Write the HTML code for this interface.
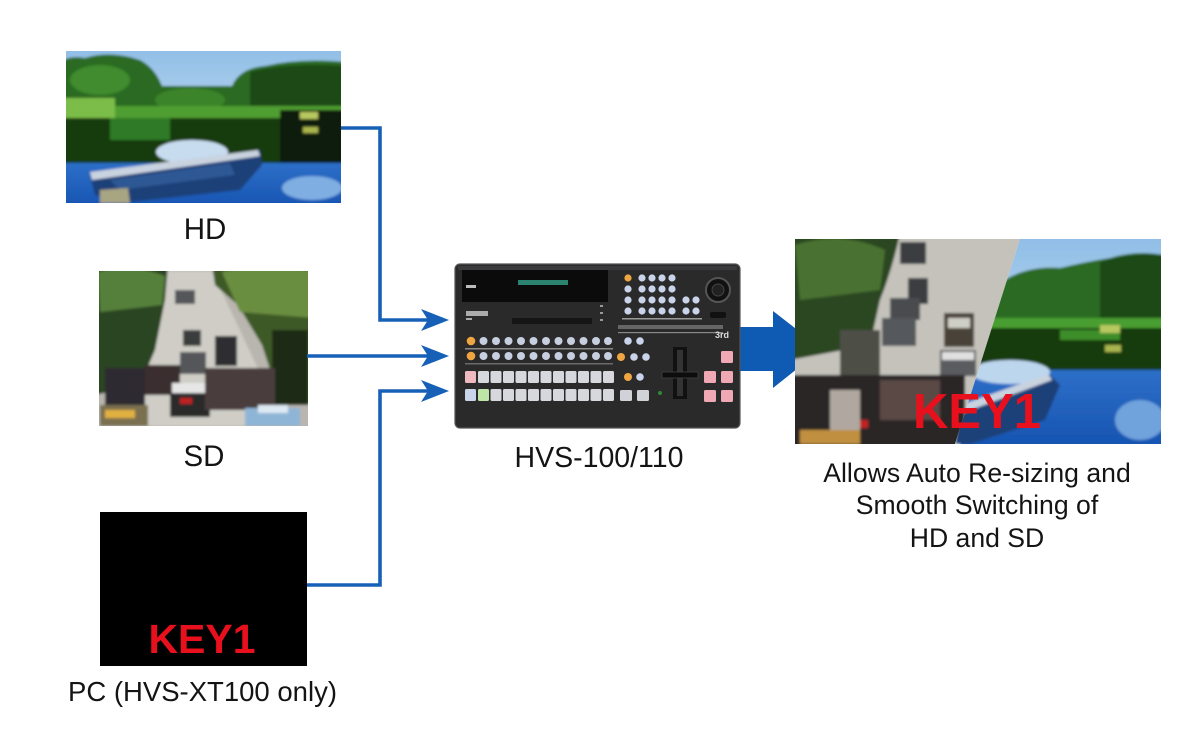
<!DOCTYPE html>
<html><head><meta charset="utf-8"><style>
html,body{margin:0;padding:0;background:#fff;}
svg{display:block;}
text{font-family:"Liberation Sans",Arial,sans-serif;}
</style></head><body>
<svg width="1200" height="742" viewBox="0 0 1200 742" xmlns="http://www.w3.org/2000/svg">
<defs>
<filter id="bl" x="-5%" y="-5%" width="110%" height="110%"><feGaussianBlur stdDeviation="1.4"/></filter>
<clipPath id="cHD"><rect x="66" y="51" width="275" height="152"/></clipPath>
<clipPath id="cSD"><rect x="99" y="271" width="209" height="155"/></clipPath>
<clipPath id="cOL"><polygon points="795,239 1020,239 955,444 795,444"/></clipPath>
<clipPath id="cOR"><polygon points="1020,239 1161,239 1161,444 955,444"/></clipPath>
<linearGradient id="sky" x1="0" y1="0" x2="0" y2="1"><stop offset="0" stop-color="#8fbde6"/><stop offset="1" stop-color="#dfeef8"/></linearGradient>
<linearGradient id="water" x1="0" y1="0" x2="0" y2="1"><stop offset="0" stop-color="#2d6fc8"/><stop offset="1" stop-color="#1552b0"/></linearGradient>
</defs>

<!-- HD image -->
<g clip-path="url(#cHD)">
<g filter="url(#bl)">
<rect x="60" y="45" width="290" height="165" fill="url(#sky)"/>
<path d="M60,62 Q70,55 85,58 Q110,50 140,60 Q155,68 162,86 L232,86 Q240,68 265,66 Q300,58 345,62 L345,120 L60,120 Z" fill="#2a6a20"/>
<ellipse cx="100" cy="80" rx="30" ry="15" fill="#3f8c2e"/>
<ellipse cx="190" cy="100" rx="35" ry="12" fill="#3a8429"/>
<path d="M250,72 Q290,62 345,66 L345,122 L250,122Z" fill="#1b4a15"/>
<rect x="60" y="106" width="290" height="12" fill="#4f9e33"/>
<rect x="60" y="98" width="55" height="42" fill="#7cbd48"/>
<rect x="60" y="118" width="290" height="47" fill="#163a11"/>
<rect x="110" y="118" width="60" height="22" fill="#2f7a25"/>
<rect x="280" y="110" width="70" height="55" fill="#0c1c09"/>
<rect x="300" y="112" width="18" height="7" fill="#b8c860"/>
<rect x="303" y="127" width="15" height="6" fill="#a9b54e"/>
<ellipse cx="192" cy="152" rx="36" ry="12" fill="#c8dcf0"/>
<rect x="60" y="163" width="290" height="47" fill="url(#water)"/>
<ellipse cx="312" cy="188" rx="30" ry="12" fill="#7eaee2"/>
<path d="M90,175 L260,150 L262,165 L240,190 L120,203 L95,195Z" fill="#1d3f78"/>
<path d="M90,172 L258,150 L260,156 L92,180Z" fill="#c9d3e0"/>
<path d="M110,180 L230,163 L235,175 L120,190Z" fill="#2f5894"/>
<path d="M100,190 L128,188 L130,203 L100,203Z" fill="#a8a582"/>
</g>
</g>

<!-- SD image -->
<g clip-path="url(#cSD)">
<g filter="url(#bl)">
<rect x="95" y="265" width="220" height="165" fill="#b8b6ae"/>
<path d="M165,271 L212,271 L285,426 L125,426Z" fill="#cfcdc6"/>
<path d="M95,265 L168,265 L165,300 L155,350 L140,385 L95,395Z" fill="#2b4420"/>
<path d="M98,272 Q130,262 165,276 L162,305 L100,312Z" fill="#55803a"/>
<path d="M212,265 L315,265 L315,405 L280,400 L262,345 L238,305 L215,285Z" fill="#3c5a28"/>
<path d="M222,272 Q265,262 315,272 L315,318 L240,312Z" fill="#6b8e40"/>
<rect x="272" y="330" width="36" height="75" fill="#1f2a18"/>
<rect x="175" y="290" width="20" height="14" fill="#55575a"/>
<rect x="183" y="330" width="18" height="16" fill="#3a3c3e"/>
<rect x="215" y="336" width="22" height="30" fill="#2d2f32"/>
<rect x="180" y="352" width="26" height="22" fill="#55575a"/>
<rect x="145" y="365" width="35" height="30" fill="#3b2f2f"/>
<rect x="170" y="385" width="40" height="32" fill="#2a2a2c"/>
<rect x="172" y="383" width="36" height="10" fill="#e6e6e6"/>
<rect x="205" y="368" width="70" height="42" fill="#4a3c3c"/>
<rect x="105" y="368" width="40" height="40" fill="#2d2a30"/>
<rect x="100" y="405" width="48" height="21" fill="#7a7050"/>
<rect x="105" y="410" width="30" height="8" fill="#e0b040"/>
<rect x="245" y="408" width="55" height="18" fill="#8fb5d6"/>
<rect x="258" y="405" width="30" height="8" fill="#dde9f3"/>
<rect x="180" y="398" width="12" height="6" fill="#c02020"/>
</g>
</g>

<!-- PC box -->
<rect x="100" y="512" width="207" height="154" fill="#000"/>
<text x="202" y="653" font-size="41" font-weight="bold" fill="#e8101c" text-anchor="middle">KEY1</text>

<!-- connectors -->
<g stroke="#1660b8" stroke-width="3.6" fill="none">
<polyline points="341,128 380,128 380,320 428,320"/>
<line x1="307" y1="356" x2="428" y2="356"/>
<polyline points="307,585 380,585 380,391 428,391"/>
</g>
<g fill="#1660b8">
<polygon points="449,320 421,309 428,320 421,331"/>
<polygon points="449,356 421,345 428,356 421,367"/>
<polygon points="449,391 421,380 428,391 421,402"/>
</g>

<!-- big arrow -->
<polygon points="738,327 773,327 773,311 822,349 773,388 773,371 738,371" fill="#0f5ab2"/>

<!-- device -->
<g>
<rect x="455" y="264" width="285" height="164" rx="5" fill="#2a2a2b" stroke="#555" stroke-width="1.2"/>
<rect x="458" y="266" width="279" height="4" fill="#3a3a3c"/>
<rect x="462" y="270" width="146" height="32" fill="#0b0b0c"/>
<rect x="518" y="280" width="50" height="5" fill="#2d8f7a" opacity="0.9"/>
<rect x="466" y="285" width="10" height="3" fill="#bbb"/>
<rect x="466" y="311" width="22" height="5" fill="#ccc" opacity="0.8"/>
<rect x="466" y="318" width="6" height="2" fill="#aaa"/>
<rect x="512" y="318" width="80" height="6" fill="#151515"/>
<rect x="600" y="305" width="3" height="2" fill="#999"/>
<rect x="600" y="312" width="3" height="2" fill="#999"/>
<rect x="600" y="319" width="3" height="2" fill="#999"/>
<g fill="#c6cee0">
<circle cx="471" cy="341" r="4.3" fill="#f0a640"/>
<circle cx="483.5" cy="341" r="4"/><circle cx="496" cy="341" r="4"/><circle cx="508.5" cy="341" r="4"/><circle cx="521" cy="341" r="4"/><circle cx="533.5" cy="341" r="4"/><circle cx="546" cy="341" r="4"/><circle cx="558.5" cy="341" r="4"/><circle cx="571" cy="341" r="4"/><circle cx="583.5" cy="341" r="4"/><circle cx="596" cy="341" r="4"/><circle cx="608" cy="341" r="4"/>
<circle cx="471" cy="356" r="4.3" fill="#f0a640"/>
<circle cx="483.5" cy="356" r="4"/><circle cx="496" cy="356" r="4"/><circle cx="508.5" cy="356" r="4"/><circle cx="521" cy="356" r="4"/><circle cx="533.5" cy="356" r="4"/><circle cx="546" cy="356" r="4"/><circle cx="558.5" cy="356" r="4"/><circle cx="571" cy="356" r="4"/><circle cx="583.5" cy="356" r="4"/><circle cx="596" cy="356" r="4"/><circle cx="608" cy="356" r="4"/>
</g>
<rect x="465" y="348" width="148" height="1.5" fill="#8a8a8a"/>
<rect x="465" y="363" width="148" height="1.5" fill="#6a6a6a"/>
<g fill="#d6d8de">
<rect x="465" y="371" width="11" height="12" rx="1.5" fill="#f0b8c0"/>
<rect x="478" y="371" width="11" height="12" rx="1.5"/><rect x="490.5" y="371" width="11" height="12" rx="1.5"/><rect x="503" y="371" width="11" height="12" rx="1.5"/><rect x="515.5" y="371" width="11" height="12" rx="1.5"/><rect x="528" y="371" width="11" height="12" rx="1.5"/><rect x="540.5" y="371" width="11" height="12" rx="1.5"/><rect x="553" y="371" width="11" height="12" rx="1.5"/><rect x="565.5" y="371" width="11" height="12" rx="1.5"/><rect x="578" y="371" width="11" height="12" rx="1.5"/><rect x="590.5" y="371" width="11" height="12" rx="1.5"/><rect x="603" y="371" width="11" height="12" rx="1.5"/>
<rect x="465" y="389" width="11" height="12" rx="1.5" fill="#c9d3ea"/>
<rect x="478" y="389" width="11" height="12" rx="1.5" fill="#bfe4a8"/><rect x="490.5" y="389" width="11" height="12" rx="1.5"/><rect x="503" y="389" width="11" height="12" rx="1.5"/><rect x="515.5" y="389" width="11" height="12" rx="1.5"/><rect x="528" y="389" width="11" height="12" rx="1.5"/><rect x="540.5" y="389" width="11" height="12" rx="1.5"/><rect x="553" y="389" width="11" height="12" rx="1.5"/><rect x="565.5" y="389" width="11" height="12" rx="1.5"/><rect x="578" y="389" width="11" height="12" rx="1.5"/><rect x="590.5" y="389" width="11" height="12" rx="1.5"/><rect x="603" y="389" width="11" height="12" rx="1.5"/>
</g>
<g fill="#c9d4ea">
<circle cx="628" cy="278" r="3.6" fill="#f0a640"/>
<circle cx="642" cy="278" r="3.6"/><circle cx="652" cy="278" r="3.6"/><circle cx="662" cy="278" r="3.6"/><circle cx="672" cy="278" r="3.6"/>
<circle cx="628" cy="289" r="3.6"/><circle cx="642" cy="289" r="3.6"/><circle cx="652" cy="289" r="3.6"/><circle cx="662" cy="289" r="3.6"/><circle cx="672" cy="289" r="3.6"/>
<circle cx="628" cy="300" r="3.6"/><circle cx="642" cy="300" r="3.6"/><circle cx="652" cy="300" r="3.6"/><circle cx="662" cy="300" r="3.6"/><circle cx="672" cy="300" r="3.6"/><circle cx="686" cy="300" r="3.6"/><circle cx="696" cy="300" r="3.6"/>
<circle cx="628" cy="311" r="3.6"/><circle cx="642" cy="311" r="3.6"/><circle cx="652" cy="311" r="3.6"/><circle cx="662" cy="311" r="3.6"/><circle cx="672" cy="311" r="3.6"/><circle cx="686" cy="311" r="3.6"/><circle cx="696" cy="311" r="3.6"/>
</g>
<rect x="622" y="318" width="80" height="1.5" fill="#999"/>
<rect x="618" y="325" width="105" height="4" fill="#666"/>
<rect x="618" y="332" width="105" height="1.2" fill="#888"/>
<circle cx="718" cy="290" r="12" fill="#111" stroke="#555" stroke-width="2"/>
<circle cx="718" cy="290" r="6" fill="#222" stroke="#444" stroke-width="1"/>
<rect x="710" y="312" width="16" height="6" rx="2" fill="#111"/>
<text x="715" y="338" font-size="9" font-weight="bold" fill="#ddd">3rd</text>
<g fill="#c9d4ea">
<circle cx="628" cy="341" r="3.8"/><circle cx="640" cy="341" r="3.8"/>
<circle cx="621" cy="357" r="4" fill="#f0a640"/><circle cx="634" cy="357" r="3.8"/><circle cx="646" cy="357" r="3.8"/>
<circle cx="628" cy="377" r="4" fill="#f0a640"/><circle cx="640" cy="377" r="3.8"/>
<rect x="620" y="390" width="12" height="11" rx="1.5" fill="#d0d2d8"/><rect x="637" y="390" width="12" height="11" rx="1.5" fill="#d0d2d8"/>
</g>
<rect x="673" y="347" width="14" height="52" fill="#111"/>
<rect x="677" y="350" width="6" height="46" fill="#333"/>
<rect x="662" y="372" width="36" height="6" fill="#0d0d0d" stroke="#444" stroke-width="0.8"/>
<circle cx="660" cy="393" r="2" fill="#2a8a3a"/>
<g fill="#f0a8b4">
<rect x="721" y="351" width="12" height="12" rx="1.5"/>
<rect x="704" y="371" width="12" height="12" rx="1.5"/><rect x="721" y="371" width="12" height="12" rx="1.5"/>
<rect x="704" y="390" width="12" height="12" rx="1.5"/><rect x="721" y="390" width="12" height="12" rx="1.5"/>
</g>
</g>

<!-- Output image: left street -->
<g clip-path="url(#cOL)">
<g filter="url(#bl)">
<rect x="790" y="234" width="240" height="215" fill="#c4c2bb"/>
<path d="M790,234 L900,234 Q892,270 880,300 L870,345 L790,360Z" fill="#2b4620"/>
<path d="M795,245 Q840,230 885,250 L880,290 L800,300Z" fill="#4a7230"/>
<rect x="900" y="242" width="26" height="22" fill="#3a3c40"/>
<rect x="908" y="278" width="20" height="26" fill="#3b3d40"/>
<rect x="890" y="298" width="30" height="22" fill="#4a4c50"/>
<rect x="882" y="318" width="34" height="28" fill="#55585b"/>
<rect x="944" y="313" width="30" height="34" fill="#4a4238"/>
<rect x="948" y="318" width="22" height="10" fill="#d0cfc5"/>
<rect x="940" y="350" width="36" height="26" fill="#5a5c60"/>
<rect x="942" y="352" width="32" height="8" fill="#e0e0e0"/>
<rect x="840" y="330" width="40" height="60" fill="#4e5046"/>
<rect x="790" y="375" width="175" height="75" fill="#2a2628"/>
<rect x="880" y="380" width="60" height="40" fill="#5a4a44"/>
<rect x="830" y="390" width="30" height="45" fill="#b0a8a0"/>
<rect x="800" y="430" width="60" height="14" fill="#c09040"/>
<rect x="860" y="420" width="8" height="8" fill="#c02020"/>
</g>
</g>
<!-- Output image: right lake -->
<g clip-path="url(#cOR)">
<g filter="url(#bl)">
<rect x="950" y="234" width="215" height="215" fill="url(#sky)"/>
<path d="M990,290 Q1020,265 1060,268 Q1085,262 1110,258 Q1135,250 1165,255 L1165,330 L990,330Z" fill="#2a6a20"/>
<path d="M1100,262 Q1140,250 1165,256 L1165,340 L1100,340Z" fill="#1b4a15"/>
<rect x="960" y="318" width="205" height="12" fill="#4a9e33"/>
<rect x="960" y="328" width="205" height="45" fill="#173a11"/>
<rect x="1060" y="330" width="60" height="10" fill="#3e8e2c"/>
<rect x="1100" y="325" width="20" height="8" fill="#b8c860"/>
<rect x="1105" y="345" width="16" height="7" fill="#a9b54e"/>
<rect x="960" y="370" width="205" height="80" fill="url(#water)"/>
<ellipse cx="1010" cy="372" rx="40" ry="12" fill="#bcd6ee"/>
<path d="M960,410 L1050,375 L1060,385 L1045,420 L970,444 L955,444Z" fill="#1d3f78"/>
<path d="M958,406 L1048,374 L1052,380 L960,414Z" fill="#c9d3e0"/>
<ellipse cx="1140" cy="420" rx="25" ry="20" fill="#6fa3dc"/>
</g>
</g>
<text x="977" y="428" font-size="49" font-weight="bold" fill="#e8101c" text-anchor="middle">KEY1</text>

<!-- labels -->
<g fill="#141414">
<text x="205" y="239" font-size="29.5" text-anchor="middle">HD</text>
<text x="204" y="466" font-size="29.5" text-anchor="middle">SD</text>
<text x="202.5" y="701" font-size="27.5" text-anchor="middle">PC (HVS-XT100 only)</text>
<text x="599" y="467" font-size="28.5" text-anchor="middle">HVS-100/110</text>
<text x="977" y="482" font-size="26.6" text-anchor="middle">Allows Auto Re-sizing and</text>
<text x="977" y="514" font-size="26.6" text-anchor="middle">Smooth Switching of</text>
<text x="977" y="547" font-size="26.6" text-anchor="middle">HD and SD</text>
</g>
</svg>
</body></html>
